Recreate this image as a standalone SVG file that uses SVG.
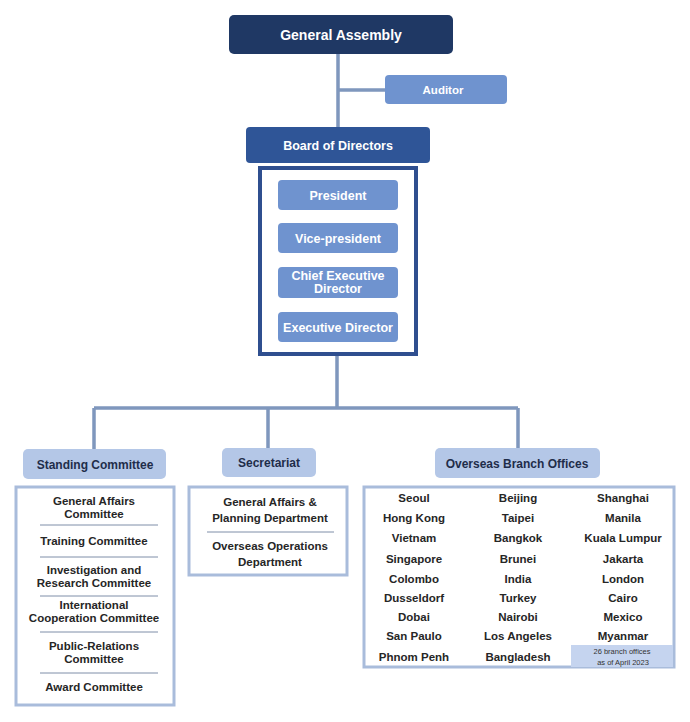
<svg xmlns="http://www.w3.org/2000/svg" width="690" height="722" viewBox="0 0 690 722">
<style>
text{font-family:"Liberation Sans",Arial,sans-serif;font-weight:bold;text-anchor:middle}
.w{fill:#ffffff;font-size:12.5px}
.d{fill:#262626;font-size:11.5px}
.h{fill:#1f2d4a;font-size:12px}
.conn{stroke:#7f97bd;stroke-width:3.5;fill:none}
.sep{stroke:#7f8ea8;stroke-width:1}
.frame{fill:#ffffff;stroke:#a9bcdb;stroke-width:3}
.off{fill:#6f93cf}
.lt{fill:#b4c7e7}
</style>
<rect width="690" height="722" fill="#ffffff"/>
<g id="connectors">
<path class="conn" d="M338 54V127M338 90H385M337 356V408M94 408H518M94 408V450M268 408V449M518 408V449"/>
</g>
<g id="general-assembly">
<rect x="229" y="15" width="224" height="39" rx="5" fill="#1f3864"/>
<text class="w" x="341" y="40" style="font-size:14px">General Assembly</text>
</g>
<g id="auditor">
<rect x="385" y="75" width="122" height="29" rx="4" class="off"/>
<text class="w" x="443" y="94" style="font-size:11.5px">Auditor</text>
</g>
<g id="board">
<rect x="246" y="127" width="184" height="36" rx="4" fill="#2f5597"/>
<text class="w" x="338" y="150">Board of Directors</text>
</g>
<g id="executives">
<rect x="260" y="168" width="156" height="186" fill="#ffffff" stroke="#2f4f8f" stroke-width="4"/>
<g id="president"><rect x="278" y="180" width="120" height="30" rx="4" class="off"/><text class="w" x="338" y="200">President</text></g>
<g id="vice-president"><rect x="278" y="223" width="120" height="30" rx="4" class="off"/><text class="w" x="338" y="243">Vice-president</text></g>
<g id="ced"><rect x="278" y="267" width="120" height="31" rx="4" class="off"/><text class="w" x="338" y="280">Chief Executive</text><text class="w" x="338" y="293">Director</text></g>
<g id="ed"><rect x="278" y="312" width="120" height="30" rx="4" class="off"/><text class="w" x="338" y="332">Executive Director</text></g>
</g>
<g id="standing-committee">
<rect x="23" y="449" width="143" height="30" rx="5" class="lt"/>
<text class="h" x="95" y="469">Standing Committee</text>
<rect x="16" y="487" width="158" height="218" class="frame"/>
<text class="d" x="94" y="505">General Affairs</text>
<text class="d" x="94" y="518">Committee</text>
<line class="sep" x1="40" y1="525" x2="158" y2="525"/>
<text class="d" x="94" y="545">Training Committee</text>
<line class="sep" x1="40" y1="557" x2="158" y2="557"/>
<text class="d" x="94" y="574">Investigation and</text>
<text class="d" x="94" y="587">Research Committee</text>
<line class="sep" x1="40" y1="596" x2="158" y2="596"/>
<text class="d" x="94" y="609">International</text>
<text class="d" x="94" y="622">Cooperation Committee</text>
<line class="sep" x1="40" y1="632" x2="158" y2="632"/>
<text class="d" x="94" y="650">Public-Relations</text>
<text class="d" x="94" y="663">Committee</text>
<line class="sep" x1="40" y1="673" x2="158" y2="673"/>
<text class="d" x="94" y="691">Award Committee</text>
</g>
<g id="secretariat">
<rect x="222" y="448" width="94" height="29" rx="5" class="lt"/>
<text class="h" x="269" y="467">Secretariat</text>
<rect x="189" y="487" width="158" height="88" class="frame"/>
<text class="d" x="270" y="506">General Affairs &amp;</text>
<text class="d" x="270" y="522">Planning Department</text>
<line class="sep" x1="207" y1="532" x2="334" y2="532"/>
<text class="d" x="270" y="550">Overseas Operations</text>
<text class="d" x="270" y="566">Department</text>
</g>
<g id="overseas">
<rect x="435" y="448" width="165" height="30" rx="5" class="lt"/>
<text class="h" x="517" y="468">Overseas Branch Offices</text>
<rect x="364" y="487" width="310" height="180" class="frame"/>
<rect x="571" y="645" width="102" height="22" fill="#c5d4ef"/>
<text class="d" x="414" y="502">Seoul</text><text class="d" x="518" y="502">Beijing</text><text class="d" x="623" y="502">Shanghai</text>
<text class="d" x="414" y="522">Hong Kong</text><text class="d" x="518" y="522">Taipei</text><text class="d" x="623" y="522">Manila</text>
<text class="d" x="414" y="542">Vietnam</text><text class="d" x="518" y="542">Bangkok</text><text class="d" x="623" y="542">Kuala  Lumpur</text>
<text class="d" x="414" y="563">Singapore</text><text class="d" x="518" y="563">Brunei</text><text class="d" x="623" y="563">Jakarta</text>
<text class="d" x="414" y="583">Colombo</text><text class="d" x="518" y="583">India</text><text class="d" x="623" y="583">London</text>
<text class="d" x="414" y="602">Dusseldorf</text><text class="d" x="518" y="602">Turkey</text><text class="d" x="623" y="602">Cairo</text>
<text class="d" x="414" y="621">Dobai</text><text class="d" x="518" y="621">Nairobi</text><text class="d" x="623" y="621">Mexico</text>
<text class="d" x="414" y="640">San Paulo</text><text class="d" x="518" y="640">Los Angeles</text><text class="d" x="623" y="640">Myanmar</text>
<text class="d" x="414" y="661">Phnom Penh</text><text class="d" x="518" y="661">Bangladesh</text>
<text x="622" y="654" style="font-size:7.5px;font-weight:normal;fill:#333">26 branch offices</text>
<text x="623" y="665" style="font-size:7.5px;font-weight:normal;fill:#333">as of April 2023</text>
</g>
</svg>
